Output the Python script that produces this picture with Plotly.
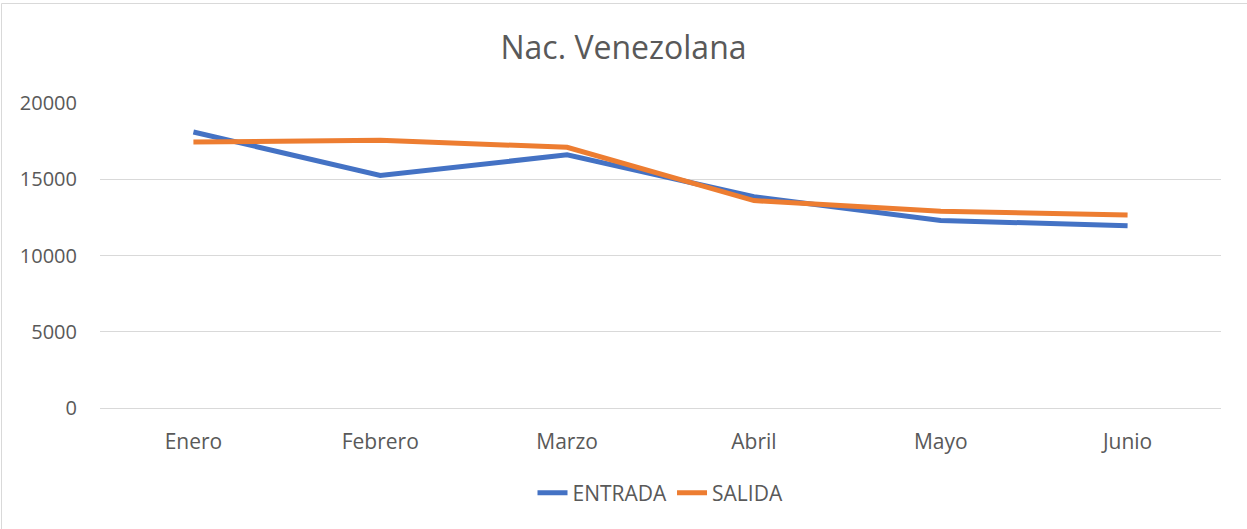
import plotly.graph_objects as go

meses = ["Enero", "Febrero", "Marzo", "Abril", "Mayo", "Junio"]
entrada = [18100, 15250, 16600, 13850, 12300, 11950]
salida = [17450, 17550, 17100, 13600, 12900, 12650]
y_ticks = [0, 5000, 10000, 15000, 20000]

W, H = 1247, 529
L, R, T, B = 100, 26, 103, 121

fig = go.Figure()
fig.add_trace(go.Scatter(x=meses, y=entrada, mode="lines", name="ENTRADA",
                         line=dict(color="#4472C4", width=5)))
fig.add_trace(go.Scatter(x=meses, y=salida, mode="lines", name="SALIDA",
                         line=dict(color="#ED7D31", width=5)))

pw = W - L - R
ph = H - T - B
# outer chart border
fig.add_shape(type="rect", xref="paper", yref="paper",
              x0=(1.5 - L) / pw, x1=(W + 5 - L) / pw,
              y0=-(H + 5 - T - ph) / ph, y1=(ph + T - 3.5) / ph,
              line=dict(color="#D9D9D9", width=1), layer="below")

fig.update_layout(
    width=W, height=H,
    margin=dict(l=L, r=R, t=T, b=B),
    paper_bgcolor="white", plot_bgcolor="white",
    font=dict(family="Open Sans", color="#595959", size=20),
    title=dict(text="Nac. Venezolana", x=0.5, xanchor="center",
               y=1 - 48 / H, yanchor="middle",
               font=dict(size=32, color="#595959")),
    showlegend=True,
    legend=dict(orientation="h", x=0.5, xanchor="center",
                y=-(493 - T - ph) / ph, yanchor="middle",
                font=dict(size=21, color="#595959")),
    xaxis=dict(type="category", range=[-0.5, 5.5], showgrid=False,
               showline=True, linecolor="#D9D9D9", linewidth=1,
               ticks="", ticklabelstandoff=15, zeroline=False,
               tickfont=dict(size=21)),
    yaxis=dict(range=[0, 20000], tickvals=y_ticks,
               ticktext=[str(v) for v in y_ticks],
               showgrid=True, gridcolor="#D9D9D9", gridwidth=1,
               zeroline=False, showline=False, ticks="", ticklabelstandoff=22,
               tickfont=dict(size=20)),
)

fig.write_html("out.html",
               config={"displayModeBar": False},
               post_script="document.body.style.margin='0';document.body.style.padding='0';")
